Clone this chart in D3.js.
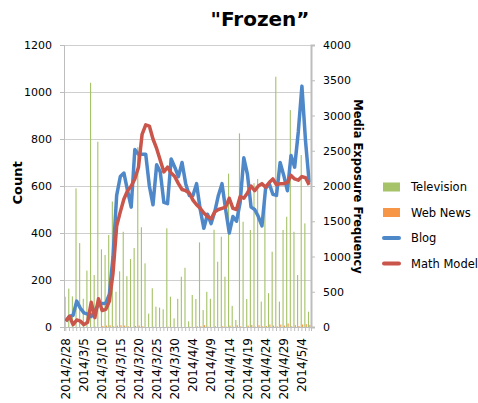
<!DOCTYPE html>
<html>
<head>
<meta charset="utf-8">
<script src="https://cdn.jsdelivr.net/npm/d3@7"></script>
<style>
  body { margin: 0; background: #fff; }
  text { font-family: "DejaVu Sans", Verdana, sans-serif; }
  .grid line { stroke: #cfcfcf; }
  .grid path { display: none; }
</style>
</head>
<body>
<svg id="chart" width="478" height="403"></svg>
<script>

// categories (one per day)
const dates = [
  "2014/2/28",
  "2014/3/1","2014/3/2","2014/3/3","2014/3/4","2014/3/5","2014/3/6","2014/3/7","2014/3/8","2014/3/9","2014/3/10",
  "2014/3/11","2014/3/12","2014/3/13","2014/3/14","2014/3/15","2014/3/16","2014/3/17","2014/3/18","2014/3/19","2014/3/20",
  "2014/3/21","2014/3/22","2014/3/23","2014/3/24","2014/3/25","2014/3/26","2014/3/27","2014/3/28","2014/3/29","2014/3/30","2014/3/31",
  "2014/4/1","2014/4/2","2014/4/3","2014/4/4","2014/4/5","2014/4/6","2014/4/7","2014/4/8","2014/4/9","2014/4/10",
  "2014/4/11","2014/4/12","2014/4/13","2014/4/14","2014/4/15","2014/4/16","2014/4/17","2014/4/18","2014/4/19","2014/4/20",
  "2014/4/21","2014/4/22","2014/4/23","2014/4/24","2014/4/25","2014/4/26","2014/4/27","2014/4/28","2014/4/29","2014/4/30",
  "2014/5/1","2014/5/2","2014/5/3","2014/5/4","2014/5/5","2014/5/6"
];

const tickLabels = ["2014/2/28","2014/3/5","2014/3/10","2014/3/15","2014/3/20","2014/3/25","2014/3/30",
  "2014/4/4","2014/4/9","2014/4/14","2014/4/19","2014/4/24","2014/4/29","2014/5/4"];

// right axis (Media Exposure Frequency)
const television = [430,545,435,1967,1190,400,800,3464,737,2628,1102,1021,1305,1780,500,790,1351,720,965,1120,
  2550,1415,903,190,549,288,275,251,1400,430,123,400,713,840,80,454,397,1200,240,500,
  400,1380,926,1281,713,2175,300,100,2747,1493,397,1376,2040,2100,360,1800,480,1068,3550,360,
  1376,1564,3077,1351,737,2439,1470,217];

const webNews = [0,0,0,0,0,0,0,0,5,0,15,20,25,10,20,25,20,10,0,15,
  20,10,0,0,5,0,0,0,5,0,0,0,0,0,5,0,10,10,25,5,
  0,10,0,10,5,20,5,25,10,0,20,30,5,25,10,15,35,20,10,35,
  20,50,10,25,15,35,40,30];

// left axis (Count)
const blog = [25,45,50,110,80,60,55,45,70,95,100,100,140,300,560,640,655,580,510,755,
  735,735,735,600,520,690,660,530,525,715,680,640,700,610,560,560,610,500,420,480,
  440,490,560,610,500,400,470,450,530,720,650,510,500,470,430,590,610,565,560,700,
  645,580,730,680,830,1025,790,615];

const mathModel = [25,45,10,30,25,10,20,105,40,120,70,75,110,230,430,490,545,580,600,630,
  680,820,860,855,800,760,710,660,680,655,640,610,585,580,570,540,520,505,485,470,
  460,490,500,505,510,548,505,500,555,548,570,600,580,600,610,595,615,630,605,610,
  610,615,645,630,625,640,635,605];

const leftTicks = [0,200,400,600,800,1000,1200];
const rightTicks = [0,500,1000,1500,2000,2500,3000,3500,4000];

const colors = {
  tv: "#a6c36a",
  web: "#f79646",
  blog: "#4f88c8",
  model: "#c9554b"
};

const plot = {left: 64, right: 311, top: 45, bottom: 327};

const svg = d3.select("#chart");

const x = d3.scaleBand()
  .domain(dates)
  .range([plot.left, plot.right]);

const xSub = d3.scaleBand()
  .domain(["tv", "web"])
  .range([0, x.bandwidth()])
  .paddingInner(0.2)
  .paddingOuter(0.4);

const yLeft = d3.scaleLinear().domain([0, 1200]).range([plot.bottom, plot.top]);
const yRight = d3.scaleLinear().domain([0, 4000]).range([plot.bottom, plot.top]);

// gridlines
svg.append("g")
  .attr("class", "grid")
  .attr("transform", "translate(" + plot.left + ",0)")
  .call(d3.axisLeft(yLeft).tickValues(leftTicks).tickSize(-(plot.right - plot.left)).tickFormat(""));

// bars
svg.append("g").selectAll("rect")
  .data(television)
  .enter().append("rect")
  .attr("x", (d, i) => x(dates[i]) + xSub("tv"))
  .attr("width", xSub.bandwidth())
  .attr("y", d => yRight(d))
  .attr("height", d => plot.bottom - yRight(d))
  .attr("fill", colors.tv);

svg.append("g").selectAll("rect")
  .data(webNews)
  .enter().append("rect")
  .attr("x", (d, i) => x(dates[i]) + xSub("web"))
  .attr("width", xSub.bandwidth())
  .attr("y", d => yRight(d))
  .attr("height", d => plot.bottom - yRight(d))
  .attr("fill", colors.web);

// lines
const line = d3.line()
  .x((d, i) => x(dates[i]) + x.bandwidth() / 2)
  .y(d => yLeft(d));

svg.append("path")
  .datum(blog)
  .attr("d", line)
  .attr("fill", "none")
  .attr("stroke", colors.blog)
  .attr("stroke-width", 3.5)
  .attr("stroke-linejoin", "round");

svg.append("path")
  .datum(mathModel)
  .attr("d", line)
  .attr("fill", "none")
  .attr("stroke", colors.model)
  .attr("stroke-width", 3.5)
  .attr("stroke-linejoin", "round");

// axes
const axisColor = "#bdbdbd";

const xAxis = svg.append("g")
  .attr("transform", "translate(0," + plot.bottom + ")")
  .call(d3.axisBottom(x).tickSize(4).tickFormat(d => tickLabels.includes(d) ? d : ""));
xAxis.selectAll("text")
  .attr("y", 0)
  .attr("x", -11)
  .attr("dy", "0.36em")
  .attr("transform", "rotate(-90)")
  .style("text-anchor", "end")
  .style("font-size", "12px")
  .attr("fill", "#000");

const leftAxis = svg.append("g")
  .attr("transform", "translate(" + plot.left + ",0)")
  .call(d3.axisLeft(yLeft).tickValues(leftTicks).tickSize(4).tickPadding(8).tickFormat(d3.format("d")));
leftAxis.selectAll("text").style("font-size", "11px").attr("fill", "#000");

const rightAxis = svg.append("g")
  .attr("transform", "translate(" + plot.right + ",0)")
  .call(d3.axisRight(yRight).tickValues(rightTicks).tickSize(4).tickPadding(8).tickFormat(d3.format("d")));
rightAxis.selectAll("text").style("font-size", "11px").attr("fill", "#000");

[xAxis, leftAxis, rightAxis].forEach(g => {
  g.select(".domain").attr("stroke", axisColor);
  g.selectAll(".tick line").attr("stroke", axisColor);
});
rightAxis.select(".domain").attr("stroke-width", 2);

// titles
svg.append("text")
  .attr("x", 260)
  .attr("y", 26)
  .attr("text-anchor", "middle")
  .attr("font-size", "20px")
  .attr("font-weight", "bold")
  .text("\"Frozen\u201d");

svg.append("text")
  .attr("transform", "translate(21.5,183) rotate(-90)")
  .attr("text-anchor", "middle")
  .attr("font-size", "13px")
  .attr("font-weight", "bold")
  .text("Count");

svg.append("text")
  .attr("transform", "translate(354,186.5) rotate(90)")
  .attr("text-anchor", "middle")
  .attr("font-size", "11.5px")
  .attr("font-weight", "bold")
  .text("Media Exposure Frequency");

// legend
const legendItems = [
  {name: "Television", color: colors.tv, type: "bar"},
  {name: "Web News", color: colors.web, type: "bar"},
  {name: "Blog", color: colors.blog, type: "line"},
  {name: "Math Model", color: colors.model, type: "line"}
];

const legend = svg.append("g")
  .attr("transform", "translate(383,187)");

legendItems.forEach((item, i) => {
  const row = legend.append("g").attr("transform", "translate(0," + (i * 25.5) + ")");
  if (item.type === "bar") {
    row.append("rect")
      .attr("x", 0).attr("y", -4.5)
      .attr("width", 17).attr("height", 9)
      .attr("fill", item.color);
  } else {
    row.append("line")
      .attr("x1", 1).attr("x2", 16)
      .attr("stroke", item.color)
      .attr("stroke-width", 4)
      .attr("stroke-linecap", "round");
  }
  row.append("text")
    .attr("x", 28)
    .attr("dy", "0.36em")
    .attr("font-size", "11.5px")
    .text(item.name);
});

</script>
</body>
</html>
